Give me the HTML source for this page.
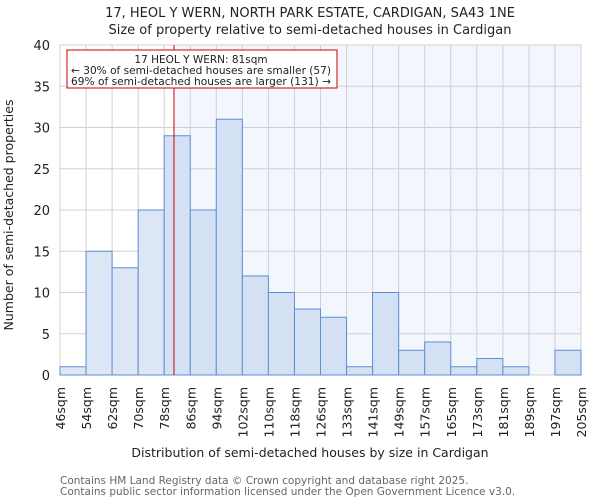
<!DOCTYPE html>
<html><head><meta charset="utf-8"><style>
body{margin:0;background:#fff;font-family:"DejaVu Sans","Liberation Sans",sans-serif}
svg text{font-family:"DejaVu Sans","Liberation Sans",sans-serif}
</style></head><body>
<svg id="chart" width="600" height="500" xmlns="http://www.w3.org/2000/svg">
<text x="310" y="17" font-size="13" text-anchor="middle" fill="#222">17, HEOL Y WERN, NORTH PARK ESTATE, CARDIGAN, SA43 1NE</text>
<text x="310" y="34" font-size="13" text-anchor="middle" fill="#222">Size of property relative to semi-detached houses in Cardigan</text>
<g id="plot"></g>
<text x="310" y="457" font-size="12.5" text-anchor="middle" fill="#222">Distribution of semi-detached houses by size in Cardigan</text>
<text transform="translate(13,215) rotate(-90)" font-size="12.5" text-anchor="middle" fill="#222">Number of semi-detached properties</text>
<text x="60" y="484" font-size="10.5" fill="#666">Contains HM Land Registry data © Crown copyright and database right 2025.</text>
<text x="60" y="495" font-size="10.5" fill="#666">Contains public sector information licensed under the Open Government Licence v3.0.</text>
</svg>
<script>
const binLabels=["46sqm","54sqm","62sqm","70sqm","78sqm","86sqm","94sqm","102sqm","110sqm","118sqm","126sqm","133sqm","141sqm","149sqm","157sqm","165sqm","173sqm","181sqm","189sqm","197sqm","205sqm"];
const counts=[1,15,13,20,29,20,31,12,10,8,7,1,10,3,4,1,2,1,0,3];
const yTicks=[0,5,10,15,20,25,30,35,40];
const propertyBinPos=4.375; // 81sqm within bins (78-86)
const NS="http://www.w3.org/2000/svg";
const L=60,R=581,T=45,B=375,yMax=40;
const n=counts.length;
const xs=i=>L+(R-L)*i/n;
const ys=v=>B-(B-T)*v/yMax;
const g=document.getElementById('plot');
function mk(tag,attrs){const e=document.createElementNS(NS,tag);for(const k in attrs)e.setAttribute(k,attrs[k]);g.appendChild(e);return e;}
const px=xs(propertyBinPos);
let e=mk('rect',{x:px,y:T,width:R-px,height:B-T,fill:'#f3f6fd'});


for(let i=0;i<=n;i++){e=mk('line',{x1:xs(i),x2:xs(i),y1:T,y2:B,stroke:'#d0d0d0','stroke-width':1});

}
yTicks.forEach(t=>{e=mk('line',{x1:L,x2:R,y1:ys(t),y2:ys(t),stroke:'#d0d0d0','stroke-width':1});


e=mk('text',{x:L-10,y:ys(t)+5,'font-size':13,'text-anchor':'end',fill:'#222'});e.textContent=t;

});
counts.forEach((c,i)=>{if(c<=0)return;
e=mk('rect',{x:xs(i),y:ys(c),width:xs(i+1)-xs(i),height:B-ys(c),fill:(i+1<=propertyBinPos?'#dce6f4':'#d4e1f4'),stroke:'#5b8fd6','stroke-width':1});

});
binLabels.forEach((l,i)=>{e=mk('text',{transform:`translate(${xs(i)+5},387) rotate(-90)`,'font-size':12.5,'text-anchor':'end',fill:'#222'});e.textContent=l;

});
e=mk('line',{x1:px,x2:px,y1:T,y2:B,stroke:'#cc0000','stroke-width':1});


e=mk('rect',{x:67,y:50,width:270,height:38,fill:'#fff',stroke:'#cc0000','stroke-width':1});


[["17 HEOL Y WERN: 81sqm",63],["← 30% of semi-detached houses are smaller (57)",74],["69% of semi-detached houses are larger (131) →",85]].forEach(([s,y],k)=>{
e=mk('text',{x:201,y:y,'font-size':10.5,'text-anchor':'middle',fill:'#222',textLength:(k==0?0:260),lengthAdjust:'spacingAndGlyphs'});e.textContent=s;
if(k==0)e.removeAttribute('textLength');

});
</script>
</body></html>
